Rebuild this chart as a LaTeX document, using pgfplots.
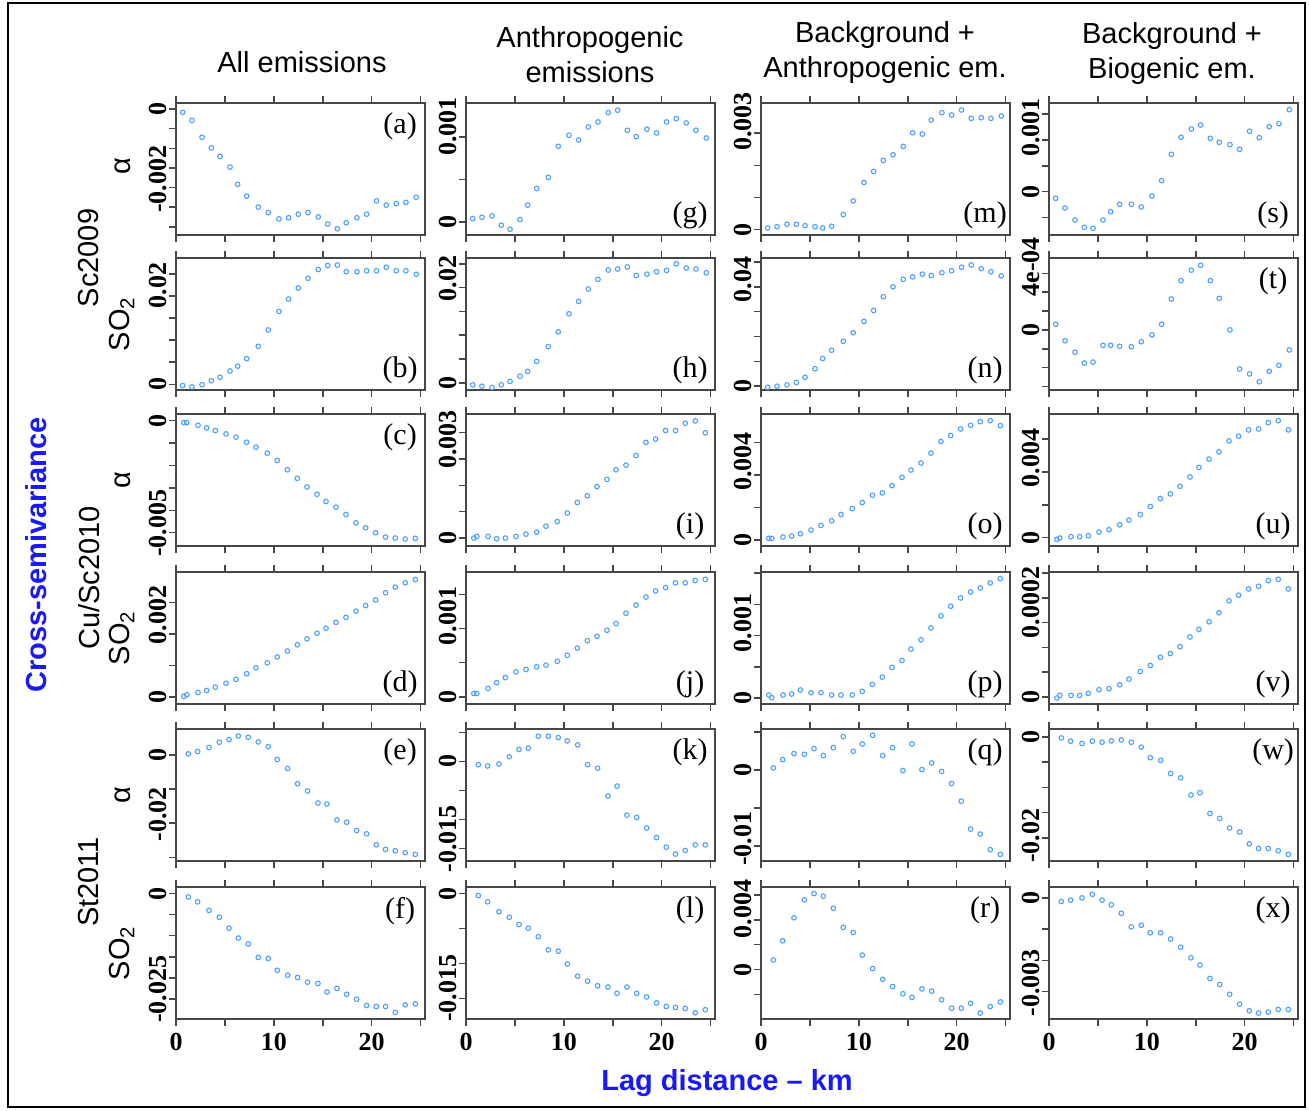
\documentclass[border=0pt]{standalone}
\usepackage{pgfplots}
\usepackage{pgfplotstable}
\pgfplotsset{compat=1.18}
\usepackage{fontspec}
\setmainfont{Liberation Serif}
\newfontfamily\arial{Liberation Sans}
\definecolor{ptblue}{RGB}{77,160,255}
\definecolor{axgray}{RGB}{70,70,70}
\definecolor{labblue}{RGB}{25,25,245}

% Sc2009 rows: alpha (a,g,m,s) and SO2 (b,h,n,t)
\pgfplotstableread{
x a b g h m n s t
0.68 -0.000085 -0.0003 0.000039 -0.00043 0.000052 -0.00041 -0.000129 2.96e-5
1.63 -0.00029 -0.0006 0.000055 -0.00072 0.000093 0 -0.000316 -5.75e-5
2.66 -0.00072 -0.0001 0.000071 -0.00101 0.000166 0.00055 -0.000548 -1.185e-4
3.61 -0.00099 0.0008 -0.000039 -0.00043 0.000166 0.00152 -0.00069 -1.759e-4
4.50 -0.00121 0.0016 -0.000087 0.00029 0.000125 0.00359 -0.00071 -1.707e-4
5.52 -0.00148 0.0030 0.000028 0.00138 0.000093 0.00703 -0.000548 -8.19e-5
6.30 -0.00192 0.0041 0.000197 0.00239 0.000052 0.01117 -0.000387 -8.19e-5
7.22 -0.00222 0.0058 0.000394 0.00449 0.000104 0.01448 -0.000245 -8.71e-5
8.41 -0.00250 0.0086 0.000524 0.00761 0.000467 0.01807 -0.000245 -8.89e-5
9.43 -0.00264 0.0123 0.00089 0.01072 0.000893 0.02152 -0.000297 -6.27e-5
10.52 -0.00280 0.0165 0.00102 0.01449 0.001464 0.02607 -0.000084 -2.61e-5
11.51 -0.00277 0.0193 0.000965 0.0171 0.001807 0.03048 0.000213 2.96e-5
12.50 -0.00268 0.0218 0.001118 0.01971 0.00215 0.036 0.000723 1.637e-4
13.49 -0.00264 0.0240 0.001177 0.02174 0.002326 0.040 0.001052 2.613e-4
14.54 -0.00275 0.0260 0.001287 0.0237 0.002586 0.04303 0.001213 3.17e-4
15.50 -0.00293 0.0269 0.001315 0.02391 0.003011 0.044 0.00129 3.432e-4
16.49 -0.00305 0.0270 0.001079 0.02435 0.00297 0.0451 0.001032 2.613e-4
17.40 -0.00290 0.0255 0.001004 0.02254 0.003406 0.04455 0.000955 1.672e-4
18.49 -0.00277 0.0255 0.001091 0.02283 0.003634 0.04566 0.00091 0
19.48 -0.00268 0.0257 0.001047 0.02333 0.003562 0.04648 0.000819 -2.073e-4
20.50 -0.00234 0.0257 0.001177 0.02362 0.003718 0.04786 0.001168 -2.334e-4
21.49 -0.00245 0.0265 0.001217 0.0250 0.003458 0.04883 0.001045 -2.752e-4
22.51 -0.00241 0.0257 0.001165 0.02413 0.003479 0.04731 0.001258 -2.195e-4
23.50 -0.00238 0.0257 0.001079 0.02391 0.003458 0.04607 0.001316 -1.881e-4
24.56 -0.00225 0.0249 0.000988 0.02312 0.003531 0.04441 0.001587 -1.063e-4
}\scdata

% Cu/Sc2010 rows: alpha (c,i,o,u) and SO2 (d,j,p,v)
\pgfplotstableread{
x c d i j o p u v
0.80 -0.0000888 0.0000208 0 0.0000495 0.000102 0.0000479 -0.000101 -2.01e-6
1.10 -0.0000888 0.0000729 0.0000625 0.0000495 0.000102 0.0000053 -0.0000202 3.34e-6
2.25 -0.000207 0.000146 0.0000625 0.000124 0.000184 0.0000479 0.0000606 3.34e-6
3.13 -0.000325 0.000208 -0.000025 0.000208 0.000245 0.0000638 0.0000606 3.34e-6
4.02 -0.000444 0.000313 0 0.000282 0.000388 0.000128 0.000121 7.36e-6
5.11 -0.000592 0.000438 0.0000625 0.000366 0.000612 0.0000851 0.000343 1.472e-5
6.13 -0.00074 0.000563 0.00015 0.000401 0.000898 0.0000851 0.000485 1.672e-5
7.22 -0.000962 0.00074 0.000225 0.000441 0.001184 0.0000479 0.000788 2.475e-5
8.17 -0.001183 0.000927 0.00045 0.000465 0.001571 0.0000479 0.001071 3.612e-5
9.33 -0.00145 0.001083 0.000625 0.00052 0.001939 0.0000479 0.001414 5.151e-5
10.35 -0.001775 0.001271 0.00095 0.000609 0.002306 0.000106 0.001899 6.355e-5
11.38 -0.002189 0.001458 0.00135 0.000713 0.002755 0.000218 0.002384 8.027e-5
12.40 -0.002574 0.001656 0.0016 0.000822 0.002898 0.000335 0.002667 8.763e-5
13.39 -0.002959 0.001844 0.00195 0.000886 0.003347 0.000489 0.003131 1.0167e-4
14.41 -0.003284 0.002021 0.002225 0.000975 0.003857 0.000601 0.003697 1.2107e-4
15.33 -0.003609 0.002177 0.002588 0.001074 0.004306 0.000782 0.004283 1.3645e-4
16.35 -0.003861 0.002365 0.002763 0.001223 0.004735 0.000931 0.004788 1.5184e-4
17.37 -0.004186 0.002521 0.003125 0.001342 0.005347 0.001122 0.005232 1.699e-4
18.39 -0.004556 0.002719 0.003625 0.00146 0.006061 0.001314 0.005899 1.9398e-4
19.38 -0.004778 0.002896 0.00375 0.00155 0.006429 0.001468 0.006182 2.0535e-4
20.40 -0.005 0.003073 0.004075 0.001599 0.006837 0.001601 0.006566 2.1806e-4
21.42 -0.005192 0.003302 0.004075 0.001668 0.007061 0.001697 0.006626 2.2341e-4
22.41 -0.005237 0.003479 0.00435 0.001668 0.007286 0.001761 0.00701 2.3478e-4
23.43 -0.005281 0.003615 0.004438 0.001703 0.007347 0.00184 0.007131 2.3746e-4
24.46 -0.005251 0.003719 0.003988 0.001718 0.007041 0.00191 0.006566 2.1806e-4
}\cudata

% St2011 rows: alpha (e,k,q,w) and SO2 (f,l,r,xx)
\pgfplotstableread{
x e f k l q r w xx
1.26 0.000291 -0.000781 -0.000568 -0.000283 0.000262 0.000763 -0.000196 -0.000106
2.21 0.000971 -0.001953 -0.000795 -0.001179 0.001354 0.002316 -0.00085 -0.0000636
3.37 0.002136 -0.003984 -0.000455 -0.002594 0.00214 0.004158 -0.001307 0.0000106
4.43 0.003689 -0.005625 0.000795 -0.003396 0.002052 0.005605 -0.00085 0.000127
5.42 0.004466 -0.008203 0.002045 -0.004434 0.002795 0.006105 -0.001046 -0.0000636
6.37 0.005534 -0.010547 0.002273 -0.004953 0.001878 0.005895 -0.000784 -0.000212
7.39 0.005146 -0.011953 0.004318 -0.006179 0.002926 0.004921 -0.000588 -0.000488
8.41 0.003786 -0.015156 0.004318 -0.008066 0.004367 0.003395 -0.001046 -0.000923
9.43 0.002427 -0.015391 0.004091 -0.008255 0.002445 0.002974 -0.002026 -0.00087
10.35 -0.001359 -0.018203 0.003523 -0.010094 0.003406 0.001158 -0.004118 -0.001113
11.41 -0.003981 -0.019375 0.002841 -0.01184 0.004541 0.000079 -0.004641 -0.001113
12.43 -0.008447 -0.019922 -0.000568 -0.012547 0.001878 -0.000789 -0.007255 -0.001315
13.45 -0.010583 -0.021016 -0.001193 -0.013208 0.002926 -0.001368 -0.008105 -0.00158
14.51 -0.014078 -0.021328 -0.005966 -0.013396 -0.000087 -0.001947 -0.011503 -0.001919
15.43 -0.014369 -0.023359 -0.004261 -0.014292 0.003406 -0.002237 -0.011046 -0.002153
16.45 -0.019029 -0.0225 -0.009261 -0.013396 0.000044 -0.001553 -0.015163 -0.002587
17.44 -0.019709 -0.023906 -0.009659 -0.014292 0.000917 -0.001737 -0.016144 -0.002778
18.46 -0.022136 -0.025078 -0.011477 -0.014811 -0.000218 -0.002421 -0.018039 -0.003096
19.48 -0.023107 -0.026563 -0.013125 -0.01566 -0.00179 -0.003105 -0.018824 -0.003415
20.47 -0.026311 -0.026797 -0.014773 -0.016179 -0.004105 -0.003105 -0.021176 -0.003627
21.42 -0.02767 -0.026797 -0.015966 -0.016321 -0.007773 -0.002711 -0.022092 -0.003701
22.41 -0.028058 -0.028203 -0.015341 -0.016462 -0.008428 -0.0035 -0.022092 -0.003669
23.43 -0.028641 -0.026406 -0.014375 -0.017075 -0.01048 -0.002974 -0.022549 -0.003584
24.46 -0.029126 -0.026172 -0.014375 -0.016651 -0.011092 -0.002605 -0.023268 -0.003584
}\stdata

\pgfplotsset{
  panel/.style={
    scale only axis, width=124.5pt, height=66pt, anchor=north west,
    xmin=0, xmax=25.45,
    axis line style={draw=axgray, line width=0.75pt},
    tick align=outside, major tick length=3.5pt,
    every tick/.style={draw=axgray, line width=0.75pt},
    xtick={0,5,10,15,20,25}, xticklabels={},
    ytick pos=left, yticklabels={},
    scaled ticks=false,
    yticklabel style={rotate=90, anchor=south, inner sep=1pt,
      font=\bfseries\fontsize{13}{13}\selectfont},
    xticklabel style={font=\bfseries\fontsize{13}{13}\selectfont},
    extra y tick style={major tick style={draw=none}},
    clip=false,
  },
  bottomrow/.style={xticklabels={0,,10,,20,}},
  pts/.style={only marks, mark=o, mark size=1.15pt,
    mark options={draw=ptblue, line width=0.55pt}},
}
\tikzset{letter/.style={font=\fontsize{15}{15}\selectfont}}

\begin{document}
\begin{tikzpicture}
\path (0,0) rectangle (654.5pt,-555.5pt);
\draw[line width=1pt] (4pt,-1.5pt) rectangle (652.5pt,-553.5pt);

% ---- column 1: all emissions
\begin{axis}[panel, at={(88pt,-51.5pt)}, ymin=-0.00321, ymax=0.000153,
  ytick={0,-0.0005,-0.001,-0.0015,-0.002,-0.0025,-0.003},
  extra y ticks={0,-0.00179}, extra y tick labels={0,-0.002}]
\addplot[pts] table[x=x,y=a] {\scdata};
\node[letter] at (rel axis cs:0.9,0.82) {(a)};
\end{axis}
\begin{axis}[panel, at={(88pt,-129pt)}, ymin=-0.0013, ymax=0.0286,
  ytick={0,0.005,0.01,0.015,0.02,0.025},
  extra y ticks={0,0.02234}, extra y tick labels={0,0.02}]
\addplot[pts] table[x=x,y=b] {\scdata};
\node[letter] at (rel axis cs:0.9,0.15) {(b)};
\end{axis}
\begin{axis}[panel, at={(88pt,-207pt)}, ymin=-0.005592, ymax=0.000296,
  ytick={0,-0.001,-0.002,-0.003,-0.004,-0.005},
  extra y ticks={0,-0.004571}, extra y tick labels={0,-0.005}]
\addplot[pts] table[x=x,y=c] {\cudata};
\node[letter] at (rel axis cs:0.9,0.82) {(c)};
\end{axis}
\begin{axis}[panel, at={(88pt,-286pt)}, ymin=-0.000219, ymax=0.003958,
  ytick={0,0.001,0.002,0.003},
  extra y ticks={0,0.002594}, extra y tick labels={0,0.002}]
\addplot[pts] table[x=x,y=d] {\cudata};
\node[letter] at (rel axis cs:0.9,0.15) {(d)};
\end{axis}
\begin{axis}[panel, at={(88pt,-364.5pt)}, ymin=-0.031068, ymax=0.007573,
  ytick={0,-0.01,-0.02,-0.03},
  extra y ticks={0,-0.017476}, extra y tick labels={0,-0.02}]
\addplot[pts] table[x=x,y=e] {\stdata};
\node[letter] at (rel axis cs:0.9,0.82) {(e)};
\end{axis}
\begin{axis}[panel, bottomrow, at={(88pt,-443.5pt)}, ymin=-0.029766, ymax=0.001563,
  ytick={0,-0.005,-0.01,-0.015,-0.02,-0.025},
  extra y ticks={0,-0.022734}, extra y tick labels={0,-0.025}]
\addplot[pts] table[x=x,y=f] {\stdata};
\node[letter] at (rel axis cs:0.9,0.82) {(f)};
\end{axis}

% ---- column 2: anthropogenic emissions
\begin{axis}[panel, at={(233pt,-51.5pt)}, ymin=-0.000154, ymax=0.0014,
  ytick={0,0.0005,0.001},
  extra y ticks={0,0.001126}, extra y tick labels={0,0.001}]
\addplot[pts] table[x=x,y=g] {\scdata};
\node[letter] at (rel axis cs:0.9,0.15) {(g)};
\end{axis}
\begin{axis}[panel, at={(233pt,-129pt)}, ymin=-0.00152, ymax=0.02623,
  ytick={0,0.005,0.01,0.015,0.02,0.025},
  extra y ticks={0,0.02188}, extra y tick labels={0,0.02}]
\addplot[pts] table[x=x,y=h] {\scdata};
\node[letter] at (rel axis cs:0.9,0.15) {(h)};
\end{axis}
\begin{axis}[panel, at={(233pt,-207pt)}, ymin=-0.0003, ymax=0.0047,
  ytick={0,0.001,0.002,0.003,0.004},
  extra y ticks={0,0.003725}, extra y tick labels={0,0.003}]
\addplot[pts] table[x=x,y=i] {\cudata};
\node[letter] at (rel axis cs:0.9,0.15) {(i)};
\end{axis}
\begin{axis}[panel, at={(233pt,-286pt)}, ymin=-0.000104, ymax=0.001827,
  ytick={0,0.0005,0.001,0.0015},
  extra y ticks={0,0.001183}, extra y tick labels={0,0.001}]
\addplot[pts] table[x=x,y=j] {\cudata};
\node[letter] at (rel axis cs:0.9,0.15) {(j)};
\end{axis}
\begin{axis}[panel, at={(233pt,-364.5pt)}, ymin=-0.017159, ymax=0.005568,
  ytick={0.005,0,-0.005,-0.01,-0.015},
  extra y ticks={0,-0.013352}, extra y tick labels={0,-0.015}]
\addplot[pts] table[x=x,y=k] {\stdata};
\node[letter] at (rel axis cs:0.9,0.82) {(k)};
\end{axis}
\begin{axis}[panel, bottomrow, at={(233pt,-443.5pt)}, ymin=-0.017972, ymax=0.000943,
  ytick={0,-0.005,-0.01,-0.015},
  extra y ticks={0,-0.013585}, extra y tick labels={0,-0.015}]
\addplot[pts] table[x=x,y=l] {\stdata};
\node[letter] at (rel axis cs:0.9,0.82) {(l)};
\end{axis}

% ---- column 3: background + anthropogenic
\begin{axis}[panel, at={(380.5pt,-51.5pt)}, ymin=-0.000166, ymax=0.003936,
  ytick={0,0.001,0.002,0.003},
  extra y ticks={0,0.003364}, extra y tick labels={0,0.003}]
\addplot[pts] table[x=x,y=m] {\scdata};
\node[letter] at (rel axis cs:0.9,0.15) {(m)};
\end{axis}
\begin{axis}[panel, at={(380.5pt,-129pt)}, ymin=-0.00152, ymax=0.0516,
  ytick={0,0.01,0.02,0.03,0.04,0.05},
  extra y ticks={0,0.04303}, extra y tick labels={0,0.04}]
\addplot[pts] table[x=x,y=n] {\scdata};
\node[letter] at (rel axis cs:0.9,0.15) {(n)};
\end{axis}
\begin{axis}[panel, at={(380.5pt,-207pt)}, ymin=-0.000367, ymax=0.007755,
  ytick={0,0.002,0.004,0.006},
  extra y ticks={0,0.004837}, extra y tick labels={0,0.004}]
\addplot[pts] table[x=x,y=o] {\cudata};
\node[letter] at (rel axis cs:0.9,0.15) {(o)};
\end{axis}
\begin{axis}[panel, at={(380.5pt,-286pt)}, ymin=-0.0000957, ymax=0.002016,
  ytick={0,0.0005,0.001,0.0015,0.002},
  extra y ticks={0,0.001197}, extra y tick labels={0,0.001}]
\addplot[pts] table[x=x,y=p] {\cudata};
\node[letter] at (rel axis cs:0.9,0.15) {(p)};
\end{axis}
\begin{axis}[panel, at={(380.5pt,-364.5pt)}, ymin=-0.011965, ymax=0.005371,
  ytick={0.005,0,-0.005,-0.01},
  extra y ticks={0,-0.009039}, extra y tick labels={0,-0.01}]
\addplot[pts] table[x=x,y=q] {\stdata};
\node[letter] at (rel axis cs:0.9,0.82) {(q)};
\end{axis}
\begin{axis}[panel, bottomrow, at={(380.5pt,-443.5pt)}, ymin=-0.003974, ymax=0.006632,
  ytick={-0.002,0,0.002,0.004,0.006},
  extra y ticks={0,0.004868}, extra y tick labels={0,0.004}]
\addplot[pts] table[x=x,y=r] {\stdata};
\node[letter] at (rel axis cs:0.9,0.82) {(r)};
\end{axis}

% ---- column 4: background + biogenic
\begin{axis}[panel, at={(524.5pt,-51.5pt)}, ymin=-0.000839, ymax=0.001716,
  ytick={-0.0005,0,0.0005,0.001,0.0015},
  extra y ticks={0,0.001245}, extra y tick labels={0,0.001}]
\addplot[pts] table[x=x,y=s] {\scdata};
\node[letter] at (rel axis cs:0.9,0.15) {(s)};
\end{axis}
\begin{axis}[panel, at={(524.5pt,-129pt)}, ymin=-0.0003188, ymax=0.0003815,
  ytick={-0.0003,-0.0002,-0.0001,0,0.0001,0.0002,0.0003},
  extra y ticks={0,0.0003345}, extra y tick labels={0,4e-04}]
\addplot[pts] table[x=x,y=t] {\scdata};
\node[letter] at (rel axis cs:0.9,0.82) {(t)};
\end{axis}
\begin{axis}[panel, at={(524.5pt,-207pt)}, ymin=-0.000505, ymax=0.007535,
  ytick={0,0.002,0.004,0.006},
  extra y ticks={0,0.004848}, extra y tick labels={0,0.004}]
\addplot[pts] table[x=x,y=u] {\cudata};
\node[letter] at (rel axis cs:0.9,0.15) {(u)};
\end{axis}
\begin{axis}[panel, at={(524.5pt,-286pt)}, ymin=-0.00001405, ymax=0.00025217,
  ytick={0,0.00005,0.0001,0.00015,0.0002,0.00025},
  extra y ticks={0,0.0001906}, extra y tick labels={0,0.0002}]
\addplot[pts] table[x=x,y=v] {\cudata};
\node[letter] at (rel axis cs:0.9,0.15) {(v)};
\end{axis}
\begin{axis}[panel, at={(524.5pt,-364.5pt)}, ymin=-0.024575, ymax=0.001569,
  ytick={0,-0.005,-0.01,-0.015,-0.02},
  extra y ticks={0,-0.019542}, extra y tick labels={0,-0.02}]
\addplot[pts] table[x=x,y=w] {\stdata};
\node[letter] at (rel axis cs:0.9,0.82) {(w)};
\end{axis}
\begin{axis}[panel, bottomrow, at={(524.5pt,-443.5pt)}, ymin=-0.003892, ymax=0.000361,
  ytick={0,-0.001,-0.002,-0.003},
  extra y ticks={0,-0.002725}, extra y tick labels={0,-0.003}]
\addplot[pts] table[x=x,y=xx] {\stdata};
\node[letter] at (rel axis cs:0.9,0.82) {(x)};
\end{axis}

% ---- titles and labels
\begin{scope}[every node/.style={font=\arial\fontsize{14.5}{17.5}\selectfont, align=center}]
\node at (151pt,-31pt) {All emissions};
\node at (295pt,-27.25pt) {Anthropogenic\\emissions};
\node at (442.5pt,-26.25pt) {Background +\\Anthropogenic em.};
\node at (586pt,-26.75pt) {Background +\\Biogenic em.};
\end{scope}
\begin{scope}[every node/.style={font=\arial\fontsize{14.5}{17.5}\selectfont, rotate=90}]
\node at (61.5pt,-83pt) {α};
\node at (61pt,-162pt) {SO\textsubscript{2}};
\node at (61.5pt,-240pt) {α};
\node at (61pt,-319pt) {SO\textsubscript{2}};
\node at (61.5pt,-397.5pt) {α};
\node at (61pt,-476.5pt) {SO\textsubscript{2}};
\node at (44.5pt,-129pt) {Sc2009};
\node at (44.5pt,-289pt) {Cu/Sc2010};
\node at (44.5pt,-441pt) {St2011};
\end{scope}
\node[rotate=90, text=labblue, font=\arial\bfseries\fontsize{14.5}{17.5}\selectfont] at (18pt,-277.5pt) {Cross-semivariance};
\node[text=labblue, font=\arial\bfseries\fontsize{14.5}{17.5}\selectfont] at (363.5pt,-541.5pt) {Lag distance – km};
\end{tikzpicture}
\end{document}
